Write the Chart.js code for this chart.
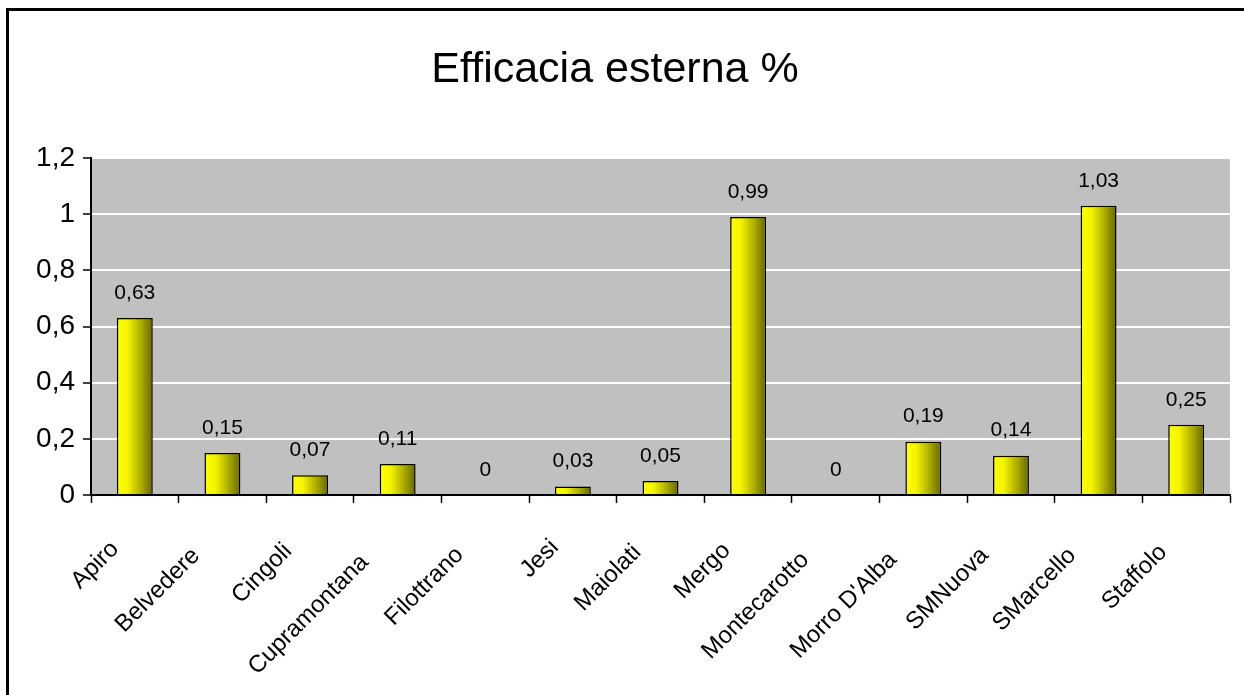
<!DOCTYPE html>
<html>
<head>
<meta charset="utf-8">
<title>Efficacia esterna %</title>
<script src="https://cdn.jsdelivr.net/npm/chart.js@4.4.0/dist/chart.umd.min.js"></script>
<style>
  html, body { margin: 0; padding: 0; background: #fff; overflow: hidden; }
  #wrap { position: relative; width: 1244px; height: 695px; }
  #frame {
    position: absolute; left: 6px; top: 8px; width: 1300px; height: 800px;
    border-left: 3px solid #000; border-top: 3px solid #000; pointer-events: none;
  }
  canvas { position: absolute; left: 0; top: 0; }
</style>
</head>
<body>
<div id="wrap">
  <canvas id="chart" width="1244" height="695"></canvas>
  <div id="frame"></div>
</div>
<script>
const comuni = ['Apiro', 'Belvedere', 'Cingoli', 'Cupramontana', 'Filottrano', 'Jesi', 'Maiolati',
  'Mergo', 'Montecarotto', "Morro D'Alba", 'SMNuova', 'SMarcello', 'Staffolo']
const efficacia = [0.63, 0.15, 0.07, 0.11, 0, 0.03, 0.05, 0.99, 0, 0.19, 0.14, 1.03, 0.25]
const yMin = 0
const yMax = 1.2
const yStep = 0.2

const BAR_PCT = 0.41
const FONT = "'Liberation Sans', Arial, sans-serif"

// numbers with a decimal comma
function virgola(v) {
  return String(Number(v.toFixed(2))).replace('.', ',')
}

// yellow bar shaded to olive on the right side
function barGradient(ctx) {
  const chart = ctx.chart
  const xs = chart.scales.x
  if (!chart.chartArea || !xs || ctx.dataIndex === undefined) return '#ffff00'
  const cx = xs.getPixelForValue(ctx.dataIndex)
  const bw = xs.width / comuni.length * BAR_PCT
  const g = chart.ctx.createLinearGradient(cx - bw / 2, 0, cx + bw / 2, 0)
  g.addColorStop(0, '#ffff00')
  g.addColorStop(0.3, '#f4f400')
  g.addColorStop(0.65, '#b0b000')
  g.addColorStop(1, '#666600')
  return g
}

const plotBackground = {
  id: 'plotBackground',
  beforeDraw(chart) {
    const { ctx, chartArea: a } = chart
    ctx.save()
    ctx.fillStyle = '#c0c0c0'
    ctx.fillRect(a.left, a.top, a.right - a.left, a.bottom - a.top)
    ctx.restore()
  }
}

const valueLabels = {
  id: 'valueLabels',
  afterDatasetsDraw(chart) {
    const { ctx } = chart
    const meta = chart.getDatasetMeta(0)
    ctx.save()
    ctx.font = '21px ' + FONT
    ctx.fillStyle = '#000'
    ctx.textAlign = 'center'
    ctx.textBaseline = 'middle'
    meta.data.forEach((bar, i) => {
      ctx.fillText(virgola(efficacia[i]), bar.x, bar.y - 25)
    })
    ctx.restore()
  }
}

// slanted category names; longer names sit a little further down the slant
const slantedLabels = {
  id: 'slantedLabels',
  afterDraw(chart) {
    const { ctx } = chart
    const xs = chart.scales.x
    ctx.save()
    ctx.font = '24px ' + FONT
    ctx.fillStyle = '#000'
    ctx.textAlign = 'right'
    ctx.textBaseline = 'alphabetic'
    comuni.forEach((name, i) => {
      const w = ctx.measureText(name).width
      ctx.save()
      ctx.translate(xs.getPixelForTick(i) - 8, xs.top + 48)
      ctx.rotate(-Math.PI / 4)
      ctx.fillText(name, -0.18 * w, 0)
      ctx.restore()
    })
    ctx.restore()
  }
}

new Chart(document.getElementById('chart'), {
  type: 'bar',
  data: {
    labels: comuni,
    datasets: [{
      label: 'Efficacia esterna %',
      data: efficacia,
      backgroundColor: barGradient,
      borderColor: '#000',
      borderWidth: 1.5,
      categoryPercentage: 1,
      barPercentage: BAR_PCT
    }]
  },
  options: {
    responsive: false,
    animation: false,
    layout: { padding: { left: 0, right: 14, top: 0, bottom: 0 } },
    plugins: {
      legend: { display: false },
      tooltip: { enabled: false },
      title: {
        display: true,
        text: 'Efficacia esterna %',
        color: '#000',
        font: { family: FONT, size: 43, weight: 'normal', lineHeight: 1.2 },
        padding: { top: 44, bottom: 62.4 }
      }
    },
    scales: {
      x: {
        afterFit(s) { s.height = 200 },
        grid: {
          display: true,
          drawOnChartArea: false,
          drawTicks: true,
          tickLength: 8,
          tickColor: '#000',
          tickWidth: 1.5,
          offset: true
        },
        border: { display: true, color: '#000', width: 2 },
        ticks: { display: false, autoSkip: false }
      },
      y: {
        min: yMin,
        max: yMax,
        afterFit(s) { s.width = 91 },
        grid: {
          color: '#fff',
          lineWidth: 2,
          drawTicks: true,
          tickLength: 8,
          tickColor: '#000',
          tickWidth: 1.5,
          z: -1
        },
        border: { display: true, color: '#000', width: 2 },
        ticks: {
          stepSize: yStep,
          color: '#000',
          padding: 8,
          font: { family: FONT, size: 28 },
          callback: v => virgola(v)
        }
      }
    }
  },
  plugins: [plotBackground, valueLabels, slantedLabels]
})
</script>
</body>
</html>
